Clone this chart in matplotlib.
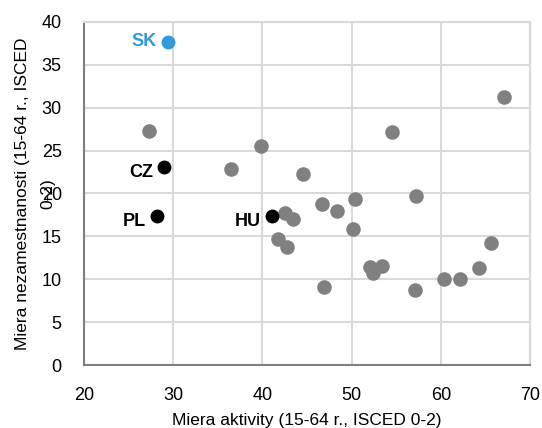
import matplotlib
matplotlib.use('Agg')
import matplotlib.pyplot as plt

# Activity rate vs unemployment rate, ISCED 0-2, 15-64
gray_x = [27.3, 36.5, 39.8, 41.7, 42.5, 42.7, 43.4, 44.6, 46.65, 46.9, 48.4,
          50.2, 50.4, 52.1, 52.4, 53.4, 54.5, 57.1, 57.25, 60.3, 62.2, 64.3,
          65.6, 67.1]
gray_y = [27.3, 22.8, 25.5, 14.7, 17.7, 13.8, 17.0, 22.3, 18.8, 9.1, 17.9,
          15.9, 19.4, 11.4, 10.7, 11.55, 27.2, 8.8, 19.75, 10.05, 10.05, 11.3,
          14.2, 31.25]

hl_names = ['CZ', 'PL', 'HU']
hl_x = [29.0, 28.2, 41.1]
hl_y = [23.1, 17.4, 17.4]

sk_x = [29.4]
sk_y = [37.7]

plt.rcParams['font.family'] = ['Liberation Sans', 'DejaVu Sans']

C_GRAY = '#808080'
C_BLUE = '#3399DD'
C_GRID = '#D9D9D9'

fig = plt.figure(figsize=(5.42, 4.28), dpi=100)
ax = fig.add_axes([0.155, 0.147, 0.823, 0.802])

ax.scatter(gray_x, gray_y, s=110, color=C_GRAY, zorder=3, linewidths=0)
ax.scatter(hl_x, hl_y, s=100, color='black', zorder=4, linewidths=0)
ax.scatter(sk_x, sk_y, s=100, color=C_BLUE, zorder=4, linewidths=0)

for n, x, y in zip(hl_names, hl_x, hl_y):
    ax.annotate(n, (x, y), xytext=(-8, -4), textcoords='offset points',
                ha='right', va='center', fontsize=13, fontweight='bold',
                color='black')
ax.annotate('SK', (sk_x[0], sk_y[0]), xytext=(-8, 0), textcoords='offset points',
            ha='right', va='center', fontsize=13, fontweight='bold', color=C_BLUE)

ax.set_xlim(20, 70)
ax.set_ylim(0, 40)
ax.set_xticks(range(20, 71, 10))
ax.set_yticks(range(0, 41, 5))
ax.tick_params(length=0, labelsize=13)
ax.tick_params(axis='y', pad=16)
ax.tick_params(axis='x', pad=16)
ax.grid(color=C_GRID, lw=1.5, zorder=0)
ax.set_axisbelow(True)
for s in ['left', 'bottom']:
    ax.spines[s].set_color(C_GRAY)
    ax.spines[s].set_linewidth(1.5)
for s in ['top', 'right']:
    ax.spines[s].set_color(C_GRID)
    ax.spines[s].set_linewidth(1.5)

ax.set_xlabel('Miera aktivity (15-64 r., ISCED 0-2)', fontsize=12.5, labelpad=6)
# wrapped y label, second line sits over the tick labels as in the original
fig.text(23 / 542, 1 - 194 / 428, 'Miera nezamestnanosti (15-64 r., ISCED',
         rotation=90, ha='center', va='center', fontsize=12.5)
fig.text(48 / 542, 1 - 194 / 428, '0-2)',
         rotation=90, ha='center', va='center', fontsize=12.5)

fig.savefig('out.png', dpi=100)
